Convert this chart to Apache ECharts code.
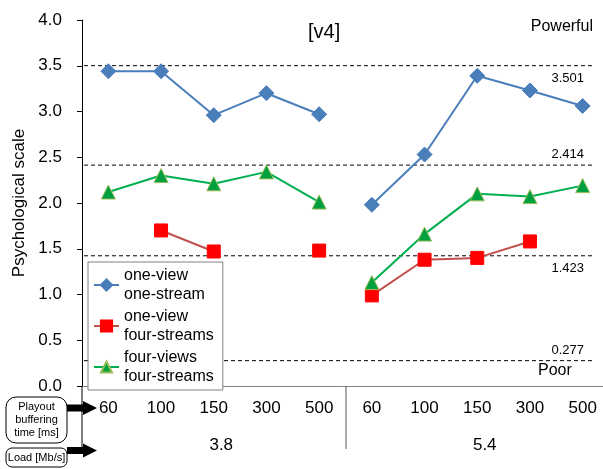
<!DOCTYPE html>
<html>
<head>
<meta charset="utf-8">
<script src="https://cdn.jsdelivr.net/npm/echarts@6/dist/echarts.min.js"></script>
<style>html,body{margin:0;padding:0;background:#fff;}#c{width:603px;height:469px;}</style>
</head>
<body>
<div id="c"></div>
<script>
const bufferTimes = ['60','100','150','300','500','60','100','150','300','500'];
const loads = ['3.8','5.4'];
const yTicks = [0, 0.5, 1.0, 1.5, 2.0, 2.5, 3.0, 3.5, 4.0];
const oneViewOneStream = [3.44, 3.44, 2.96, 3.20, 2.97, 1.98, 2.53, 3.39, 3.23, 3.06];
const oneViewFourStreams = [null, 1.70, 1.47, null, 1.48, 0.99, 1.38, 1.40, 1.58, null];
const fourViewsFourStreams = [2.12, 2.30, 2.21, 2.34, 2.01, 1.13, 1.66, 2.10, 2.07, 2.19];
const refLevels = [3.501, 2.414, 1.423, 0.277];
const refLabelAbove = [false, true, false, true];
const seriesNames = ['one-view\none-stream', 'one-view\nfour-streams', 'four-views\nfour-streams'];

const FONT = 'Liberation Sans, Arial, sans-serif';

function groupSplit(arr, g) {
  return arr.map((v, i) => (Math.floor(i / 5) === g ? v : null));
}

const styles = [
  { symbol: 'diamond', symbolSize: 15, line: '#4a7ebb', fill: '#4a7ebb', border: '#4a7ebb' },
  { symbol: 'rect', symbolSize: 13, line: '#c0504d', fill: '#ff0000', border: '#ff0000' },
  { symbol: 'triangle', symbolSize: 14, line: '#00b050', fill: '#00a040', border: '#9bbb59' }
];
const dataSets = [oneViewOneStream, oneViewFourStreams, fourViewsFourStreams];

const series = [];
dataSets.forEach((d, k) => {
  const s = styles[k];
  for (let g = 0; g < 2; g++) {
    series.push({
      name: seriesNames[k],
      type: 'line',
      xAxisIndex: 0,
      yAxisIndex: 0,
      data: groupSplit(d, g),
      symbol: s.symbol,
      symbolSize: s.symbolSize,
      showAllSymbol: true,
      connectNulls: false,
      lineStyle: { color: s.line, width: 2 },
      itemStyle: { color: s.fill, borderColor: s.border, borderWidth: 1 },
      z: 3,
      animation: false
    });
  }
});

refLevels.forEach((lv) => {
  series.push({
    type: 'line',
    xAxisIndex: 2,
    yAxisIndex: 0,
    silent: true,
    clip: false,
    symbol: 'none',
    lineStyle: { color: '#000', width: 1, type: [4, 3] },
    data: [[-0.0095, lv], [0.9734, lv]],
    z: 2,
    animation: false
  });
});

const chart = echarts.init(document.getElementById('c'), null, { renderer: 'canvas' });
chart.setOption({
  animation: false,
  backgroundColor: '#fff',
  title: {
    text: '[v4]',
    left: 308, top: 22, padding: 0,
    textStyle: { fontSize: 20, fontWeight: 'normal', color: '#000', fontFamily: FONT }
  },
  grid: { left: 82, top: 20, width: 527, height: 366, containLabel: false, outerBoundsMode: 'none' },
  legend: {
    orient: 'vertical',
    left: 88, top: 262,
    padding: [4, 9, 4, 5],
    itemGap: 3,
    itemWidth: 25, itemHeight: 14,
    backgroundColor: '#fff',
    borderColor: '#808080', borderWidth: 1,
    data: seriesNames,
    textStyle: { fontSize: 16, lineHeight: 19, color: '#000', fontFamily: FONT },
    selectedMode: false,
    z: 10
  },
  xAxis: [
    {
      type: 'category', data: bufferTimes, boundaryGap: true, position: 'bottom',
      axisLine: { show: true, lineStyle: { color: '#808080', width: 1 } },
      axisTick: { show: false },
      axisLabel: { fontSize: 17, color: '#000', margin: 14, fontFamily: FONT, interval: 0 },
      splitLine: { show: false }
    },
    {
      type: 'category', data: loads, boundaryGap: true, position: 'bottom',
      axisLine: { show: false }, axisTick: { show: false },
      axisLabel: {
        fontSize: 17, color: '#000', margin: 51, fontFamily: FONT, interval: 0,
        formatter: v => '{s|' + v + '}',
        rich: { s: { fontSize: 17, color: '#000', fontFamily: FONT, padding: [0, 0, 0, 15] } }
      },
      splitLine: { show: false }
    },
    { type: 'value', min: 0, max: 1, show: false }
  ],
  yAxis: {
    type: 'value', min: yTicks[0], max: yTicks[yTicks.length - 1], interval: 0.5,
    name: 'Psychological scale', nameLocation: 'middle', nameGap: 53,
    nameTextStyle: { fontSize: 17, color: '#000', fontFamily: FONT },
    axisLine: { show: true, lineStyle: { color: '#000', width: 1 } },
    axisTick: { show: true, length: 5, lineStyle: { color: '#000' } },
    axisLabel: { fontSize: 17, color: '#000', margin: 20, fontFamily: FONT, formatter: v => v.toFixed(1) },
    splitLine: { show: false }
  },
  series: series
});

const refTexts = refLevels.map((lv, i) => {
  const py = chart.convertToPixel({ yAxisIndex: 0 }, lv);
  return {
    type: 'text',
    x: 584,
    y: refLabelAbove[i] ? py - 4 : py + 6,
    style: {
      text: String(lv), fontSize: 13, fill: '#000', fontFamily: FONT,
      align: 'right', verticalAlign: refLabelAbove[i] ? 'bottom' : 'top'
    },
    z: 5
  };
});

chart.setOption({
  graphic: [
    { type: 'line', shape: { x1: 82, y1: 386, x2: 82, y2: 447 }, style: { stroke: '#000', lineWidth: 1 }, z: 1 },
    { type: 'line', shape: { x1: 346, y1: 386, x2: 346, y2: 449 }, style: { stroke: '#555', lineWidth: 1 }, z: 1 },
    { type: 'text', right: 10, top: 19, style: { text: 'Powerful', fontSize: 16, fill: '#000', fontFamily: FONT } },
    { type: 'text', left: 538, top: 363, style: { text: 'Poor', fontSize: 16, fill: '#000', fontFamily: FONT } },
    { type: 'rect', shape: { x: 6, y: 397, width: 61, height: 46, r: 10 }, style: { fill: '#fff', stroke: '#000', lineWidth: 1 }, z: 5 },
    { type: 'text', x: 36.5, y: 420, style: { text: 'Playout\nbuffering\ntime [ms]', fontSize: 11, lineHeight: 13, align: 'center', verticalAlign: 'middle', fill: '#000', fontFamily: FONT }, z: 6 },
    { type: 'polygon', shape: { points: [[67, 404.5], [83, 404.5], [83, 401], [97, 408], [83, 415], [83, 411.5], [67, 411.5]] }, style: { fill: '#000' }, z: 6 },
    { type: 'rect', shape: { x: 6, y: 448, width: 61, height: 19, r: 6 }, style: { fill: '#fff', stroke: '#000', lineWidth: 1 }, z: 5 },
    { type: 'text', x: 36.5, y: 458, style: { text: 'Load [Mb/s]', fontSize: 11, align: 'center', verticalAlign: 'middle', fill: '#000', fontFamily: FONT }, z: 6 },
    { type: 'polygon', shape: { points: [[67, 447], [83, 447], [83, 443.5], [97, 450.5], [83, 457.5], [83, 454], [67, 454]] }, style: { fill: '#000' }, z: 6 }
  ].concat(refTexts)
});
</script>
</body>
</html>
